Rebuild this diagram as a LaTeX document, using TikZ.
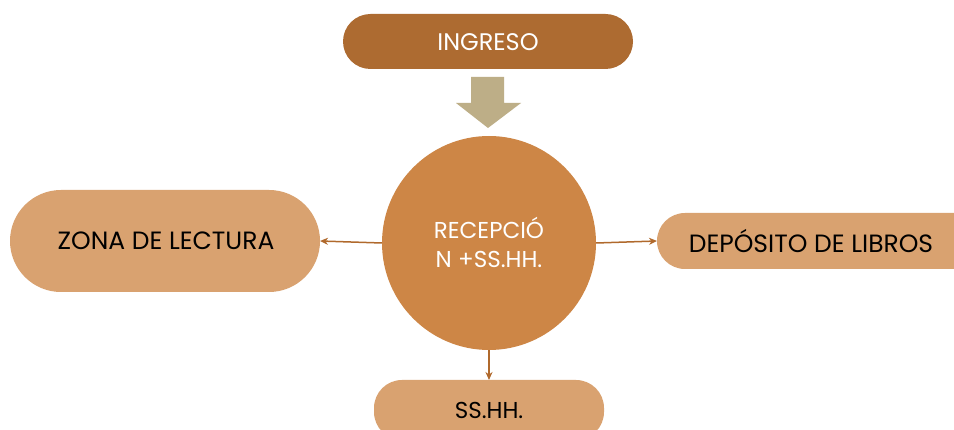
\documentclass[tikz,border=0pt]{standalone}
\usepackage{fontspec}
\setmainfont{Poppins}
\usetikzlibrary{arrows.meta}
\definecolor{darkbrown}{HTML}{AD6B31}
\definecolor{midbrown}{HTML}{CD8646}
\definecolor{lightbrown}{HTML}{D9A270}
\definecolor{khaki}{HTML}{BDAE87}
\definecolor{linebrown}{HTML}{B0692C}
\tikzset{
  lbl/.style={font=\fontsize{25}{28}\selectfont},
  conn/.style={draw=linebrown, line width=1.5pt, -{Stealth[length=8pt,width=7pt]}}
}
\begin{document}
\begin{tikzpicture}[x=1pt,y=-1pt]
\useasboundingbox (0,0) rectangle (954,430);
\clip (0,0) rectangle (954,430);
\fill[white] (0,0) rectangle (954,430);
% top box
\fill[darkbrown, rounded corners=27.5pt] (343,14) rectangle (633,69);
\node[lbl, text=white, font=\fontsize{24}{28}\selectfont] (ing) at (488,42) {INGRESO};
% big arrow
\fill[khaki] (471,77) -- (504,77) -- (504,103) -- (521,103) -- (488,128) -- (456,103) -- (471,103) -- cycle;
% circle
\node[circle, fill=midbrown, minimum size=214pt, inner sep=0pt] (rec) at (489,243) {};
\node[text=white, align=center, font=\fontsize{23}{29}\selectfont] (rect) at (489,242) {RECEPCIÓ\\N +SS.HH.};
% left
\fill[lightbrown, rounded corners=51pt] (10,190) rectangle (320,292);
\node[lbl] (zona) at (166,241) {ZONA DE LECTURA};
\coordinate (zonar) at (320,241);
% right
\fill[lightbrown, rounded corners=28pt] (657,213) rectangle (990,269);
\node[lbl] (dep) at (811,241) {DEPÓSITO DE LIBROS};
\coordinate (depl) at (657,241);
% bottom
\fill[lightbrown, rounded corners=28pt] (374,380) rectangle (604,440);
\node[lbl, font=\fontsize{23}{28}\selectfont] (ss) at (489,410) {SS.HH.};
\coordinate (sst) at (489,380);
% connectors
\draw[conn] (rec.west) -- (zonar);
\draw[conn] (rec.east) -- (depl);
\draw[conn] (rec.south) -- (sst);
\end{tikzpicture}
\end{document}
